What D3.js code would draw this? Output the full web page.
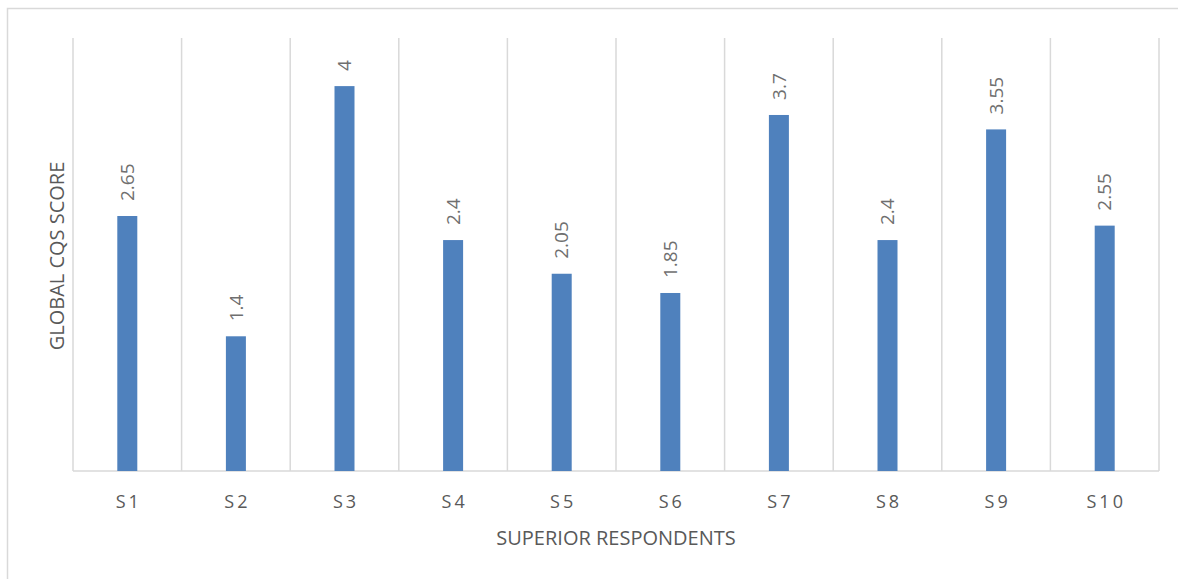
<!DOCTYPE html>
<html><head><meta charset="utf-8">
<script src="https://cdn.jsdelivr.net/npm/d3@7"></script>
<style>body{margin:0;background:#fff;}svg{display:block;}</style>
</head><body>
<svg id="c" width="1178" height="579"></svg>
<script>
const categories = ["S1","S2","S3","S4","S5","S6","S7","S8","S9","S10"];
const values = [2.65,1.4,4,2.4,2.05,1.85,3.7,2.4,3.55,2.55];
const labels = ["2.65","1.4","4","2.4","2.05","1.85","3.7","2.4","3.55","2.55"];
const yTitle = "GLOBAL CQS SCORE";
const xTitle = "SUPERIOR RESPONDENTS";

const svg = d3.select("#c");
const font = "'Open Sans', 'Noto Sans', sans-serif";
const m = {l:73, r:1159, t:38, b:471};

svg.append("rect").attr("x",7.5).attr("y",8.5).attr("width",1200).attr("height",620)
  .attr("fill","none").attr("stroke","#d9d9d9").attr("stroke-width",1.5);

const x = d3.scaleBand().domain(categories).range([m.l,m.r]).paddingInner(0).paddingOuter(0);
const y = d3.scaleLinear().domain([0,4.5]).range([m.b,m.t]);

const bounds = categories.map(c=>x(c)).concat([m.r]);
svg.append("g").selectAll("line").data(bounds).join("line")
  .attr("x1",d=>d).attr("x2",d=>d).attr("y1",y(4.5)).attr("y2",y(0))
  .attr("stroke","#d9d9d9").attr("stroke-width",1.5);

svg.append("line").attr("x1",m.l).attr("x2",m.r).attr("y1",y(0)).attr("y2",y(0))
  .attr("stroke","#d9d9d9").attr("stroke-width",1.5);

const bw = 20;
svg.append("g").selectAll("rect").data(values).join("rect")
  .attr("x",(d,i)=>x(categories[i])+x.bandwidth()/2-bw/2)
  .attr("y",d=>y(d)).attr("width",bw).attr("height",d=>y(0)-y(d))
  .attr("fill","#4f81bd");

svg.append("g").selectAll("text").data(values).join("text")
  .attr("transform",(d,i)=>`translate(${x(categories[i])+x.bandwidth()/2},${y(d)-15}) rotate(-90)`)
  .attr("text-anchor","start").attr("dy","0.35em").attr("font-family",font).attr("font-size",19).attr("fill","#6f6f6f")
  .text((d,i)=>labels[i]);

const xAxis = d3.axisBottom(x).tickSize(0).tickPadding(0);
const gx = svg.append("g").attr("transform",`translate(0,${y(0)})`).call(xAxis);
gx.select(".domain").remove();
gx.selectAll("text").attr("font-family",font).attr("font-size",18).attr("fill","#595959")
  .attr("letter-spacing","3px").attr("dy","0").attr("y",37).attr("dx","1.5px");

svg.append("text").attr("x",(m.l+m.r)/2).attr("y",545).attr("text-anchor","middle")
  .attr("font-family",font).attr("font-size",20).attr("fill","#595959").text(xTitle);

svg.append("text").attr("transform",`translate(64,256) rotate(-90)`).attr("text-anchor","middle")
  .attr("font-family",font).attr("font-size",20).attr("fill","#595959").text(yTitle);
</script>
</body></html>
